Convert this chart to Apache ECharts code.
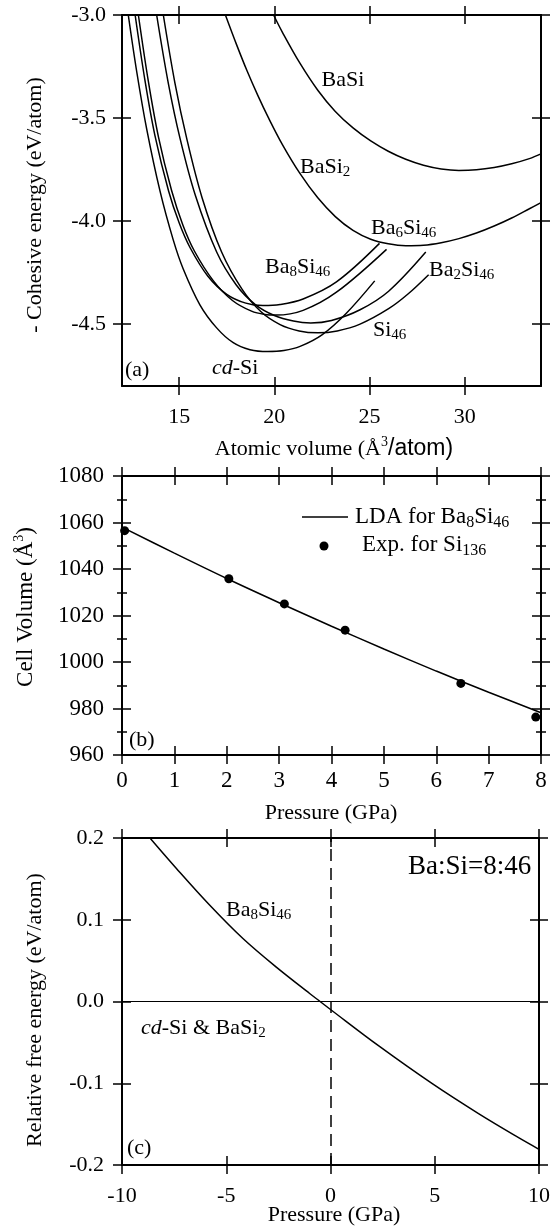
<!DOCTYPE html>
<html><head><meta charset="utf-8">
<script src="https://cdn.jsdelivr.net/npm/echarts@6/dist/echarts.min.js"></script>
<style>html,body{margin:0;padding:0;background:#fff}#c{width:553px;height:1228px}</style>
</head><body><div id="c"></div>
<script>
// ---------- Panel (a): cohesive energy vs atomic volume ----------
const curveBaSi = [[19.96,-3.0],[20.43,-3.085],[21.35,-3.235],[22.28,-3.365],[23.2,-3.468],[24.13,-3.548],[25.06,-3.611],[25.98,-3.661],[26.9,-3.70],[27.83,-3.729],[28.76,-3.747],[29.69,-3.754],[30.61,-3.751],[31.54,-3.74],[32.46,-3.722],[33.39,-3.697],[34.0,-3.674]];
const curveBaSi2 = [[17.43,-3.0],[18.02,-3.145],[18.57,-3.272],[19.13,-3.39],[19.68,-3.497],[20.43,-3.63],[21.35,-3.77],[22.28,-3.887],[23.2,-3.978],[24.13,-4.045],[25.06,-4.088],[25.98,-4.11],[26.9,-4.119],[27.83,-4.117],[28.76,-4.105],[29.69,-4.085],[30.61,-4.058],[31.54,-4.024],[32.46,-3.985],[33.39,-3.94],[34.0,-3.91]];
const curveCdSi = [[12.33,-3.0],[12.78,-3.279],[13.30,-3.555],[14.0,-3.856],[14.69,-4.091],[15.21,-4.231],[16.09,-4.406],[16.97,-4.518],[17.84,-4.590],[18.72,-4.624],[19.65,-4.633],[20.5,-4.628],[21.35,-4.608],[22.5,-4.552],[23.78,-4.447],[25.27,-4.29]];
const curveBa8Si46 = [[12.69,-3.0],[13.21,-3.32],[13.73,-3.585],[14.45,-3.855],[15.0,-4.008],[15.57,-4.128],[16.5,-4.266],[17.5,-4.355],[18.5,-4.398],[19.4,-4.41],[20.3,-4.405],[21.51,-4.378],[23.26,-4.295],[25.52,-4.108]];
const curveBa6Si46 = [[12.86,-3.0],[13.38,-3.32],[13.91,-3.59],[14.6,-3.85],[15.2,-4.02],[15.8,-4.145],[16.8,-4.29],[17.8,-4.385],[18.8,-4.437],[19.5,-4.453],[20.1,-4.456],[21.51,-4.433],[23.26,-4.345],[25.89,-4.137]];
const curveBa2Si46 = [[13.82,-3.0],[14.43,-3.33],[15.05,-3.6],[15.85,-3.875],[16.97,-4.15],[18.0,-4.31],[19.0,-4.405],[20.0,-4.458],[21.0,-4.485],[21.91,-4.494],[23.0,-4.482],[24.5,-4.43],[26.0,-4.34],[27.95,-4.15]];
const curveSi46 = [[14.17,-3.0],[14.78,-3.33],[15.4,-3.6],[16.2,-3.885],[17.23,-4.15],[18.3,-4.33],[19.3,-4.44],[20.3,-4.502],[21.3,-4.533],[22.28,-4.542],[23.3,-4.533],[24.5,-4.50],[26.0,-4.425],[27.0,-4.355],[28.1,-4.26]];
const ticksVolume = [15,20,25,30];
const ticksCohesive = [-3.0,-3.5,-4.0,-4.5];

// ---------- Panel (b): cell volume vs pressure ----------
const pressureLDA = [0,1,2,3,4,5,6,7,8];
const volumeLDA = [1058,1046.8,1035.9,1025.5,1015.4,1005.6,996.1,987.0,978.2];
const pressureExp = [0.05,2.04,3.10,4.26,6.47,7.90];
const volumeExp = [1056.5,1035.8,1025.0,1013.7,990.8,976.3];

// ---------- Panel (c): relative free energy vs pressure ----------
const pressureFree = [-8.66,-7.4,-5.8,-4.2,-2.6,-1.0,-0.5,0,2.3,4.9,7.1,9.0,10];
const freeEnergy = [0.2,0.163,0.118,0.077,0.042,0.0098,0.0,-0.0098,-0.0541,-0.1009,-0.1372,-0.1663,-0.1808];

const SERIF = '"Liberation Serif","Times New Roman",serif';
const SANS = '"Liberation Sans",Arial,sans-serif';

function mkAxes(dim, grid, o) {
  const pos = dim === 'x' ? ['bottom','top'] : ['left','right'];
  const list = [];
  pos.forEach((p, pi) => {
    [false, true].forEach(inside => {
      const ax = {
        type: 'value', gridIndex: grid, position: p, min: o.min, max: o.max,
        splitLine: {show: false},
        axisLine: {show: !inside, onZero: false, lineStyle: {color: '#000', width: 2}},
        axisTick: {show: true, inside: inside, length: 9, lineStyle: {color: '#000', width: 1.5}},
        axisLabel: {show: pi === 0 && !inside, color: '#000', fontFamily: SERIF, fontSize: o.fs || 22, margin: o.margin,
          formatter: o.fmt || (v => String(v))},
        axisPointer: {show: false}
      };
      if (o.interval) ax.interval = o.interval;
      if (o.custom) { ax.axisTick.customValues = o.custom; ax.axisLabel.customValues = o.custom; }
      if (o.minor) ax.minorTick = {show: true, splitNumber: o.minor, length: 5, lineStyle: {color: '#000', width: 1.5}};
      list.push(ax);
    });
  });
  return list;
}
const fmt1 = v => (Math.abs(v) < 1e-9 ? '0.0' : v.toFixed(1));

const xAxis = [].concat(
  mkAxes('x', 0, {min: 12, max: 34, custom: ticksVolume, margin: 20}),
  mkAxes('x', 1, {min: 0, max: 8, interval: 1, margin: 14, fs: 23}),
  mkAxes('x', 2, {min: -10, max: 10, interval: 5, margin: 20})
);
const yAxis = [].concat(
  mkAxes('y', 0, {min: -4.8, max: -3.0, custom: ticksCohesive, margin: 16, fmt: fmt1}),
  mkAxes('y', 1, {min: 960, max: 1080, interval: 20, minor: 2, margin: 18, fs: 23}),
  mkAxes('y', 2, {min: -0.2, max: 0.2, interval: 0.1, margin: 18, fmt: fmt1})
);

const lineStyle = {color: '#000', width: 1.5};
function curve(data) {
  return {type: 'line', xAxisIndex: 0, yAxisIndex: 0, data: data, showSymbol: false, symbol: 'none',
    smooth: 0.35, lineStyle: lineStyle, silent: true};
}

const series = [
  curve(curveBaSi), curve(curveBaSi2), curve(curveCdSi), curve(curveBa8Si46),
  curve(curveBa6Si46), curve(curveBa2Si46), curve(curveSi46),
  {type: 'line', xAxisIndex: 4, yAxisIndex: 4, data: pressureLDA.map((p, i) => [p, volumeLDA[i]]),
    showSymbol: false, symbol: 'none', smooth: 0.35, lineStyle: lineStyle, silent: true},
  {type: 'scatter', xAxisIndex: 4, yAxisIndex: 4, data: pressureExp.map((p, i) => [p, volumeExp[i]]),
    symbol: 'circle', symbolSize: 9, itemStyle: {color: '#000', opacity: 1}, silent: true},
  {type: 'line', xAxisIndex: 8, yAxisIndex: 8, data: pressureFree.map((p, i) => [p, freeEnergy[i]]),
    showSymbol: false, symbol: 'none', smooth: 0.35, lineStyle: lineStyle, silent: true,
    markLine: {silent: true, symbol: 'none', label: {show: false}, animation: false,
      data: [
        {yAxis: 0, lineStyle: {color: '#000', width: 1, type: 'solid'}},
        {xAxis: 0, lineStyle: {color: '#000', width: 1.5, type: [12, 7]}}
      ]}}
];

// rich-text tokens: all top-aligned; padding-top shifts the glyphs down
const rich = {
  n: {fontFamily: SERIF, fontSize: 22, padding: [3, 0, 0, 0], verticalAlign: 'top', fill: '#000'},
  i: {fontFamily: SERIF, fontSize: 22, fontStyle: 'italic', padding: [3, 0, 0, 0], verticalAlign: 'top', fill: '#000'},
  s: {fontFamily: SERIF, fontSize: 15, padding: [12, 0, 0, 0], verticalAlign: 'top', fill: '#000'},
  u: {fontFamily: SERIF, fontSize: 14, padding: [0, 0, 0, 0], verticalAlign: 'top', fill: '#000'},
  h: {fontFamily: SANS, fontSize: 23, padding: [2, 0, 0, 0], verticalAlign: 'top', fill: '#000'},
  b: {fontFamily: SERIF, fontSize: 27, padding: [0, 0, 0, 0], verticalAlign: 'top', fill: '#000'},
  L: {fontFamily: SERIF, fontSize: 23, padding: [2, 0, 0, 0], verticalAlign: 'top', fill: '#000'},
  S: {fontFamily: SERIF, fontSize: 16, padding: [12, 0, 0, 0], verticalAlign: 'top', fill: '#000'}
};
function T(x, y, txt, align, rot) {
  return {type: 'text', x: x, y: y, rotation: rot || 0, silent: true,
    style: {text: txt, rich: rich, x: 0, y: -14, align: align || 'left', verticalAlign: 'top', fill: '#000'}};
}

const graphic = [
  // panel (a)
  T(343, 80, '{n|BaSi}', 'center'),
  T(300, 167, '{n|BaSi}{s|2}'),
  T(371, 228, '{n|Ba}{s|6}{n|Si}{s|46}'),
  T(265, 267, '{n|Ba}{s|8}{n|Si}{s|46}'),
  T(429, 270, '{n|Ba}{s|2}{n|Si}{s|46}'),
  T(373, 330, '{n|Si}{s|46}'),
  T(212, 368, '{i|cd}{n|-Si}'),
  T(125, 370, '{n|(a)}'),
  T(35, 205, '{n|- Cohesive energy (eV/atom)}', 'center', Math.PI / 2),
  T(334, 449, '{n|Atomic volume (Å}{u|3}{h|/atom)}', 'center'),
  // panel (b)
  {type: 'line', silent: true, shape: {x1: 302, y1: 517, x2: 348, y2: 517}, style: {stroke: '#000', lineWidth: 1.5}},
  T(355, 517, '{L|LDA for Ba}{S|8}{L|Si}{S|46}'),
  {type: 'circle', silent: true, shape: {cx: 324, cy: 546, r: 4.5}, style: {fill: '#000'}},
  T(362, 545, '{L|Exp. for Si}{S|136}'),
  T(129, 740, '{n|(b)}'),
  T(26, 607, '{L|Cell Volume (Å}{u|3}{L|)}', 'center', Math.PI / 2),
  T(331, 813, '{n|Pressure (GPa)}', 'center'),
  // panel (c)
  T(408, 867, '{b|Ba:Si=8:46}'),
  T(226, 910, '{n|Ba}{s|8}{n|Si}{s|46}'),
  T(141, 1028, '{i|cd}{n|-Si & BaSi}{s|2}'),
  T(127, 1148, '{n|(c)}'),
  T(35, 1010, '{n|Relative free energy (eV/atom)}', 'center', Math.PI / 2),
  T(334, 1215, '{n|Pressure (GPa)}', 'center')
];

const chart = echarts.init(document.getElementById('c'), null, {renderer: 'canvas'});
chart.setOption({
  animation: false,
  backgroundColor: '#fff',
  grid: [
    {left: 122, top: 15, width: 419, height: 371, containLabel: false},
    {left: 122, top: 476, width: 419, height: 279, containLabel: false},
    {left: 122, top: 838, width: 419, height: 327, containLabel: false}
  ],
  xAxis: xAxis,
  yAxis: yAxis,
  series: series,
  graphic: graphic
});
</script></body></html>
